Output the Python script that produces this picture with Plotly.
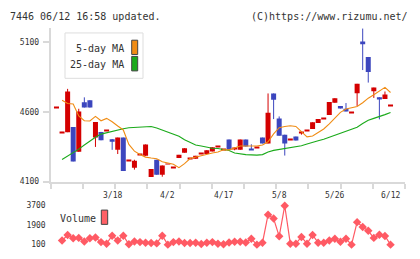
import numpy as np
import plotly.graph_objects as go

# ---------------- data ----------------
idx = list(range(61))
opens = [4634, 4450, 4455, 4492, 4314, 4669, 4685, 4416, 4457, 4466,
         4404, 4328, 4416, 4250, 4200, 4292, 4285, 4133, 4257, 4149,
         4227, 4200, 4269, 4308, 4269, 4264, 4303, 4299, 4317, 4352,
         4333, 4402, 4335, 4328, 4402, 4336, 4347, 4416, 4374, 4733,
         4554, 4437, 4400, 4423, 4455, 4471, 4478, 4521, 4554, 4579,
         4666, 4643, 4623, 4600, 4735, 5106, 4995, 4749, 4706, 4694,
         4648]
highs = [4634, 4457, 4766, 4492, 4623, 4705, 4685, 4528, 4457, 4466,
         4406, 4416, 4416, 4250, 4257, 4292, 4367, 4190, 4257, 4216,
         4227, 4200, 4292, 4340, 4269, 4285, 4303, 4326, 4347, 4352,
         4333, 4402, 4345, 4402, 4402, 4368, 4347, 4416, 4733, 4733,
         4568, 4437, 4400, 4423, 4462, 4471, 4526, 4549, 4554, 4671,
         4699, 4643, 4664, 4600, 4802, 5202, 4995, 4775, 4706, 4747,
         4648]
lows = [4634, 4450, 4455, 4245, 4314, 4632, 4632, 4349, 4397, 4466,
        4328, 4298, 4176, 4250, 4186, 4292, 4285, 4133, 4149, 4135,
        4227, 4200, 4269, 4308, 4269, 4264, 4303, 4299, 4317, 4352,
        4333, 4328, 4325, 4328, 4352, 4330, 4347, 4374, 4374, 4549,
        4430, 4287, 4400, 4395, 4437, 4471, 4478, 4521, 4554, 4579,
        4666, 4625, 4604, 4600, 4643, 4901, 4811, 4701, 4547, 4694,
        4648]
closes = [4634, 4450, 4747, 4245, 4604, 4632, 4632, 4528, 4397, 4466,
          4386, 4416, 4176, 4250, 4250, 4292, 4367, 4190, 4149, 4216,
          4227, 4200, 4292, 4340, 4269, 4285, 4303, 4326, 4347, 4352,
          4333, 4328, 4335, 4402, 4352, 4330, 4347, 4374, 4595, 4687,
          4430, 4374, 4400, 4395, 4455, 4471, 4526, 4549, 4554, 4671,
          4699, 4625, 4604, 4600, 4802, 5087, 4887, 4775, 4694, 4726,
          4648]
ma5 = [None, 4684, 4661, 4657, 4571, 4537, 4535, 4568, 4537, 4554,
       4530, 4499, 4471, 4367, 4319, 4294, 4276, 4269, 4264, 4243,
       4236, 4225, 4200, 4229, 4266, 4276, 4290, 4300, 4305, 4312,
       4328, 4328, 4340, 4356, 4356, 4356, 4356, 4363, 4386, 4443,
       4487, 4496, 4501, 4496, 4455, 4421, 4428, 4455, 4478, 4515,
       4559, 4597, 4621, 4630, 4639, 4666, 4699, 4724, 4749, 4777,
       4740]
ma25 = [None, 4259, 4283, 4305, 4333, 4363, 4393, 4418, 4441, 4452,
        4459, 4471, 4480, 4487, 4490, 4494, 4494, 4496, 4485, 4469,
        4455, 4441, 4425, 4400, 4381, 4363, 4356, 4347, 4340, 4338,
        4333, 4324, 4305, 4298, 4294, 4292, 4290, 4294, 4312, 4324,
        4331, 4338, 4342, 4347, 4358, 4370, 4379, 4393, 4404, 4418,
        4434, 4448, 4459, 4471, 4490, 4517, 4540, 4554, 4565, 4581,
        4597]
volume = [None, 481, 987, 685, 721, 393, 685, 747, 331, 189,
          925, 481, 925, 127, 393, 331, 277, 242, 215, 925,
          100, 331, 393, 242, 242, 277, 153, 277, 331, 189,
          127, 304, 366, 366, 304, 632, 100, 277, 2850, 2495,
          863, 3675, 189, 189, 810, 189, 987, 277, 277, 481,
          632, 366, 632, 100, 2167, 1723, 1368, 721, 1014, 898,
          100]
date_pos = [10, 20, 30, 40, 50, 60]
date_labels = ["3/18", "4/2", "4/17", "5/8", "5/26", "6/12"]
price_ticks = [4100, 4600, 5100]
vol_ticks = [100, 1900, 3700]

# ---------------- styling ----------------
W, H = 420, 259
RED = "#d40000"
BLUE = "#3c46be"
ORANGE = "#f08c14"
GREEN = "#1aaa1a"
VOLC = "#ff5a64"
AXC = "#d9d9d9"
TXT = "#333333"
MONO = "DejaVu Sans Mono"

def px_x(p):
    return p / W

def px_y(p):
    return 1 - p / H

xr = [-1.04, 62.6]
min_body = 7

fig = go.Figure()

# wicks
for col, up in ((RED, True), (BLUE, False)):
    wx, wy = [], []
    for i, o, h, l, c in zip(idx, opens, highs, lows, closes):
        if (c >= o) == up and h > l:
            wx += [i, i, None]
            wy += [l, h, None]
    fig.add_trace(go.Scatter(x=wx, y=wy, mode="lines", line=dict(color=col, width=1),
                             hoverinfo="skip", showlegend=False, xaxis="x", yaxis="y"))

# bodies
for col, up in ((RED, True), (BLUE, False)):
    bx, bb, bh = [], [], []
    for i, o, c in zip(idx, opens, closes):
        if (c >= o) == up:
            bx.append(i)
            lo = min(o, c)
            hgt = abs(c - o)
            if hgt < min_body:
                lo = (o + c) / 2 - min_body / 2
                hgt = min_body
            bb.append(lo)
            bh.append(hgt)
    fig.add_trace(go.Bar(x=bx, y=bh, base=bb, width=0.9, marker=dict(color=col, line=dict(width=0)),
                         showlegend=False, xaxis="x", yaxis="y"))

# moving averages
fig.add_trace(go.Scatter(x=idx, y=ma25, mode="lines", line=dict(color=GREEN, width=1.1),
                         showlegend=False, xaxis="x", yaxis="y"))
fig.add_trace(go.Scatter(x=idx, y=ma5, mode="lines", line=dict(color=ORANGE, width=1.1),
                         showlegend=False, xaxis="x", yaxis="y"))

# volume
fig.add_trace(go.Scatter(x=idx, y=volume, mode="lines+markers",
                         line=dict(color=VOLC, width=1.2),
                         marker=dict(symbol="diamond", size=6.5, color=VOLC),
                         cliponaxis=False, showlegend=False, xaxis="x2", yaxis="y2"))

xd = [px_x(50.7), px_x(405)]
fig.update_layout(
    width=W, height=H, margin=dict(l=0, r=0, t=0, b=0),
    paper_bgcolor="white", plot_bgcolor="white",
    barmode="overlay", showlegend=False,
    xaxis=dict(domain=xd, range=xr, showline=True, linecolor=AXC, linewidth=2,
               ticks="outside", ticklen=5, tickwidth=2, tickcolor=AXC,
               tickvals=list(np.linspace(xr[0], xr[1], 12)), showticklabels=False,
               showgrid=False, zeroline=False, fixedrange=True, anchor="y"),
    yaxis=dict(domain=[px_y(184), px_y(25.3)], range=[4100, 5200], showline=True,
               linecolor=AXC, linewidth=2, ticks="outside", ticklen=6, tickwidth=2,
               tickcolor=AXC, tickvals=price_ticks, tickfont=dict(family=MONO, size=8, color=TXT),
               ticklabelstandoff=2,
               showgrid=False, zeroline=False, fixedrange=True, anchor="x"),
    xaxis2=dict(domain=xd, range=xr, visible=False, anchor="y2", fixedrange=True),
    yaxis2=dict(domain=[px_y(249.3), px_y(208.7)], range=[100, 3700], showline=False,
                ticks="", tickvals=vol_ticks, tickfont=dict(family=MONO, size=8, color=TXT),
                ticklabelstandoff=4,
                showgrid=False, zeroline=False, fixedrange=True, anchor="x2"),
)

ann = []
ann.append(dict(text="7446 06/12 16:58 updated.", x=px_x(8), y=px_y(13), xref="paper", yref="paper",
                xanchor="left", yanchor="middle", showarrow=False, font=dict(family=MONO, size=10, color=TXT)))
ann.append(dict(text="(C)https://www.rizumu.net/", x=px_x(409.5), y=px_y(13), xref="paper", yref="paper",
                xanchor="right", yanchor="middle", showarrow=False, font=dict(family=MONO, size=10, color=TXT)))
for p, t in zip(date_pos, date_labels):
    ann.append(dict(text=t, x=p, y=px_y(198), xref="x", yref="paper", xanchor="center", yanchor="middle",
                    showarrow=False, font=dict(family=MONO, size=8, color=TXT)))
ann.append(dict(text="5-day MA", x=px_x(125.5), y=px_y(46), xref="paper", yref="paper",
                xanchor="right", yanchor="middle", showarrow=False, font=dict(family=MONO, size=10, color=TXT)))
ann.append(dict(text="25-day MA", x=px_x(125.5), y=px_y(62.5), xref="paper", yref="paper",
                xanchor="right", yanchor="middle", showarrow=False, font=dict(family=MONO, size=10, color=TXT)))
ann.append(dict(text="Volume", x=px_x(58), y=px_y(222), xref="paper", yref="paper",
                xanchor="left", yanchor="middle", showarrow=False, font=dict(family=MONO, size=10, color=TXT)))

shapes = []
shapes.append(dict(type="rect", xref="paper", yref="paper", x0=px_x(65), x1=px_x(143), y0=px_y(77), y1=px_y(30),
                   line=dict(color="#dddddd", width=1), fillcolor="white", layer="above"))
shapes.append(dict(type="rect", xref="paper", yref="paper", x0=px_x(131.7), x1=px_x(137.7), y0=px_y(52.3), y1=px_y(37.5),
                   line=dict(color="#444444", width=1), fillcolor=ORANGE, layer="above"))
shapes.append(dict(type="rect", xref="paper", yref="paper", x0=px_x(131.7), x1=px_x(137.7), y0=px_y(69.3), y1=px_y(54.3),
                   line=dict(color="#444444", width=1), fillcolor=GREEN, layer="above"))
shapes.append(dict(type="rect", xref="paper", yref="paper", x0=px_x(101.3), x1=px_x(107.7), y0=px_y(228.3), y1=px_y(213.5),
                   line=dict(color="#444444", width=1), fillcolor="#ff6066", layer="above"))
fig.update_layout(annotations=ann, shapes=shapes)

fig.write_html("out.html")
